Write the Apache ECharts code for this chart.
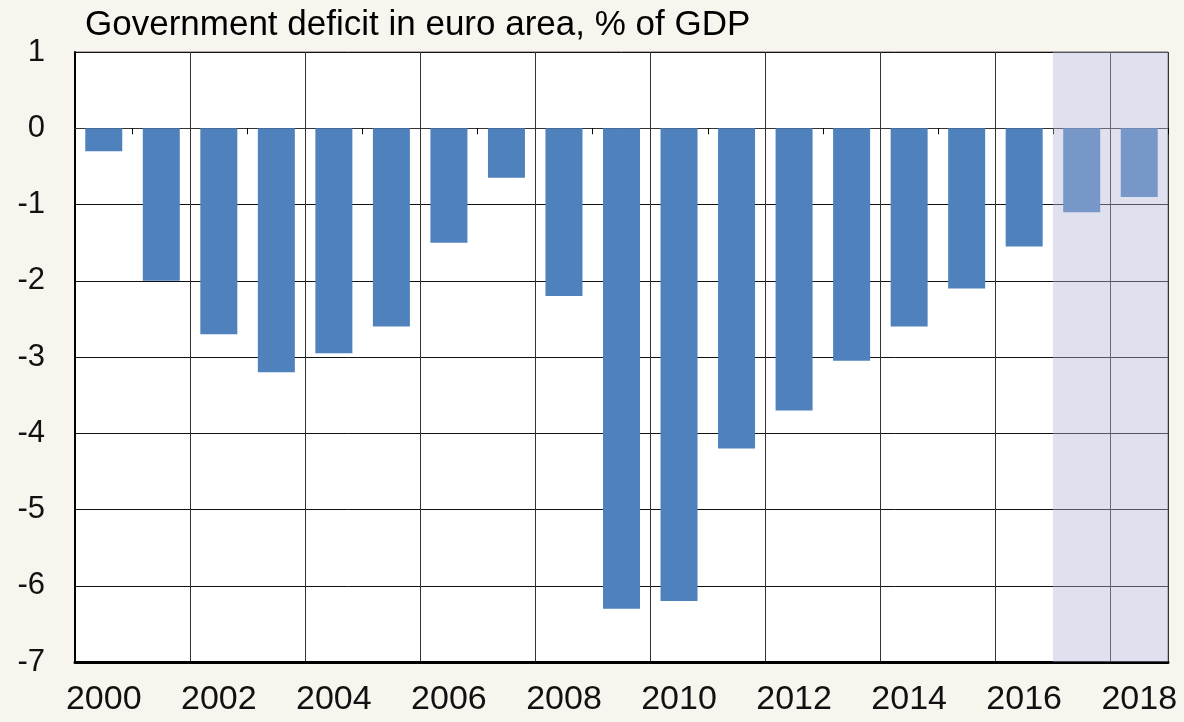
<!DOCTYPE html>
<html>
<head>
<meta charset="utf-8">
<script src="https://cdn.jsdelivr.net/npm/echarts@6/dist/echarts.min.js"></script>
<style>
  html, body { margin: 0; padding: 0; background: #f8f4ee; }
  #chart { width: 1184px; height: 722px; }
</style>
</head>
<body>
<div id="chart"></div>
<script>
// years and deficit values, % of GDP
const years = ["2000", "2001", "2002", "2003", "2004", "2005", "2006", "2007", "2008", "2009",
  "2010", "2011", "2012", "2013", "2014", "2015", "2016", "2017", "2018"];
const deficit = [-0.3, -2.0, -2.7, -3.2, -2.95, -2.6, -1.5, -0.65, -2.2, -6.3,
  -6.2, -4.2, -3.7, -3.05, -2.6, -2.1, -1.55, -1.1, -0.9];
// forecast period (shaded), as category index range
const forecastFrom = 17;
const forecastTo = 19;

const chart = echarts.init(document.getElementById("chart"));

const font = "Liberation Sans, Arial, sans-serif";

const option = {
    backgroundColor: "#f8f4ee",
    animation: false,
    title: {
        text: "Government deficit in euro area, % of GDP",
        left: 80,
        top: 3,
        textStyle: {
            color: "#000",
            fontFamily: font,
            fontWeight: "normal",
            fontSize: 35,
        },
    },
    grid: {
        left: 75,
        right: 16,
        top: 52,
        bottom: 60,
        show: true,
        backgroundColor: "#fff",
        borderColor: "#666",
        borderWidth: 1,
    },
    xAxis: [
        {
            // main axis at the bottom: labels + vertical grid lines
            type: "category",
            data: years,
            position: "bottom",
            axisLine: { onZero: false, lineStyle: { color: "#000", width: 3 } },
            axisTick: { show: false },
            axisLabel: {
                interval: 1,
                color: "#111",
                fontFamily: font,
                fontSize: 34,
                margin: 21,
            },
            splitLine: {
                show: true,
                interval: (i) => i % 2 === 0,
                lineStyle: { color: "#333", width: 1 },
            },
        },
        {
            // zero line with small ticks pointing up
            type: "category",
            data: years,
            axisLine: { onZero: true, lineStyle: { color: "#333", width: 1 } },
            axisTick: {
                show: true,
                inside: true,
                length: 6,
                interval: (i) => i % 2 === 1,
                lineStyle: { color: "#000", width: 1 },
            },
            axisLabel: { show: false },
            splitLine: { show: false },
        },
        {
            // hidden value axis for the shaded forecast band
            type: "value",
            min: 0,
            max: years.length,
            show: false,
        },
    ],
    yAxis: {
        type: "value",
        min: -7,
        max: 1,
        interval: 1,
        axisLine: { show: true, lineStyle: { color: "#000", width: 2 } },
        axisTick: { show: false },
        axisLabel: {
            color: "#111",
            fontFamily: font,
            fontSize: 31,
            margin: 30,
        },
        splitLine: { lineStyle: { color: "#111", width: 1 } },
    },
    series: [
        {
            type: "bar",
            xAxisIndex: 0,
            data: deficit,
            barWidth: 37,
            itemStyle: { color: "#4f81bd" },
            z: 2,
        },
        {
            type: "line",
            xAxisIndex: 2,
            data: [],
            z: 10,
            silent: true,
            markArea: {
                silent: true,
                z: 10,
                itemStyle: { color: "rgba(178,182,216,0.41)" },
                data: [[{ xAxis: forecastFrom }, { xAxis: forecastTo }]],
            },
        },
    ],
};

chart.setOption(option);
</script>
</body>
</html>
